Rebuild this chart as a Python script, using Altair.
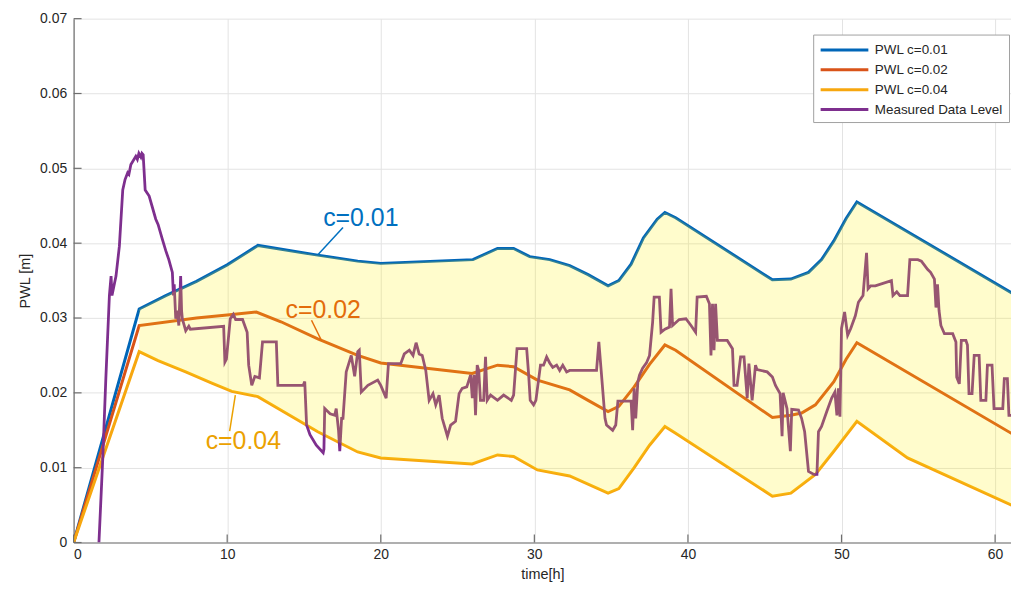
import altair as alt
import pandas as pd
import numpy as np

# ---------------- data ----------------
series_names = ["PWL c=0.01", "PWL c=0.02", "PWL c=0.04", "Measured Data Level"]
series_colors = ["#0066B8", "#D95319", "#F7A70F", "#7E2F8E"]

t_c01 = [0, 4.27, 6.0, 8.0, 10.0, 12.0, 15.9, 18.5, 20.0, 26.0, 27.6, 28.65, 29.7, 31.0, 32.3,
         33.5, 34.8, 35.5, 36.3, 37.1, 38.0, 38.5, 39.2, 45.5, 46.7, 47.85, 48.7, 49.5, 50.3,
         51.0, 61.3]
v_c01 = [0, 0.0312, 0.0330, 0.0349, 0.0371, 0.0397, 0.0384, 0.0376, 0.0373, 0.0378, 0.0393,
         0.0393, 0.0382, 0.0378, 0.0370, 0.0358, 0.0343, 0.0350, 0.0372, 0.0407, 0.0432, 0.0441,
         0.0434, 0.0351, 0.0352, 0.0361, 0.0378, 0.0403, 0.0433, 0.0455, 0.0331]

t_c02 = [0, 4.27, 8.0, 10.0, 11.9, 13.5, 15.9, 18.5, 20.0, 25.95, 27.6, 28.65, 30.2, 32.3,
         33.5, 34.8, 35.5, 36.5, 37.5, 38.5, 39.2, 45.5, 46.7, 47.4, 48.3, 49.5, 50.3, 51.0, 61.3]
v_c02 = [0, 0.0290, 0.0300, 0.0304, 0.0308, 0.0295, 0.0272, 0.0250, 0.0240, 0.0226, 0.0237,
         0.0235, 0.0217, 0.0204, 0.0190, 0.0175, 0.0182, 0.0208, 0.0238, 0.0264, 0.0257,
         0.0167, 0.0170, 0.0173, 0.0184, 0.0215, 0.0245, 0.0267, 0.0143]

t_c04 = [0, 4.27, 5.5, 7.3, 9.0, 10.3, 12.0, 15.9, 18.5, 20.0, 25.95, 27.6, 28.65, 30.2, 32.3,
         34.8, 35.5, 36.5, 37.5, 38.5, 39.2, 45.5, 46.7, 48.3, 49.5, 51.0, 54.3, 61.3]
v_c04 = [0, 0.0255, 0.0243, 0.0228, 0.0213, 0.0202, 0.0195, 0.0148, 0.0121, 0.0113, 0.0105,
         0.0117, 0.0115, 0.0097, 0.0089, 0.0066, 0.0072, 0.0100, 0.0130, 0.0155, 0.0146,
         0.0062, 0.0066, 0.0091, 0.0122, 0.0162, 0.0113, 0.0048]

t_meas = [1.65, 1.9, 2.1, 2.33, 2.44, 2.5, 2.6, 2.76, 2.98, 3.2, 3.35, 3.52, 3.6, 3.73, 4.05,
          4.15, 4.25, 4.38, 4.45, 4.53, 4.66, 4.92, 5.1, 5.35, 5.5, 5.78, 6.0, 6.2, 6.43, 6.5,
          6.55, 6.65, 6.75, 6.85, 6.97, 7.03, 7.08, 7.3, 7.5, 7.6, 9.77, 9.85, 9.95, 10.2, 10.4,
          10.55, 11.0, 11.3, 11.4, 11.6, 11.8, 12.1, 12.3, 13.2, 13.3, 14.95, 15.05, 15.17,
          15.39, 15.8, 16.25, 16.3, 16.35, 16.7, 17.0, 17.1, 17.25, 17.33, 17.45, 17.54, 17.75,
          18.08, 18.3, 18.5, 18.6, 18.73, 19.16, 19.8, 20.0, 20.35, 20.5, 21.3, 21.53, 21.86,
          22.1, 22.3, 22.5, 22.7, 22.93, 23.15, 23.4, 23.58, 23.8, 24.0, 24.34, 24.55, 24.87,
          25.1, 25.3, 25.6, 25.85, 25.96, 26.07, 26.17, 26.28, 26.38, 26.49, 26.7, 26.82, 26.93,
          27.15, 27.6, 28.0, 28.5, 28.65, 28.87, 29.5, 29.63, 29.73, 29.95, 30.1, 30.4, 30.6,
          30.8, 31.0, 31.2, 31.45, 31.65, 31.85, 32.1, 32.3, 34.05, 34.2, 34.35, 34.6, 34.7,
          35.1, 35.3, 35.44, 36.3, 36.4, 36.5, 36.6, 36.74, 36.85, 37.05, 37.3, 37.5, 37.7,
          37.8, 38.14, 38.25, 38.5, 38.8, 38.9, 39.0, 39.43, 39.87, 40.2, 40.5, 40.6, 41.2,
          41.4, 41.5, 41.6, 41.7, 41.8, 41.92, 42.56, 42.9, 43.0, 43.2, 43.43, 43.65, 43.86,
          43.97, 44.18, 44.4, 44.5, 45.16, 45.5, 45.7, 46.0, 46.13, 46.2, 46.45, 46.67, 46.76,
          47.2, 47.4, 47.6, 47.85, 48.2, 48.4, 48.5, 48.7, 49.04, 49.36, 49.57, 49.7, 49.8,
          49.9, 50.0, 50.2, 50.4, 50.6, 50.9, 51.1, 51.4, 51.63, 51.73, 51.9, 52.2, 53.25,
          53.35, 53.6, 53.8, 54.3, 54.45, 54.97, 55.2, 55.6, 55.8, 56.05, 56.15, 56.25, 56.35,
          56.47, 56.7, 57.24, 57.45, 57.5, 57.67, 57.8, 58.1, 58.2, 58.3, 58.5, 58.64, 58.96,
          59.07, 59.4, 59.5, 59.8, 59.93, 60.5, 60.6, 60.8, 60.9, 61.3]
v_meas = [0.0, 0.0113, 0.022, 0.033, 0.0356, 0.033, 0.034, 0.0356, 0.0396, 0.0471, 0.0485,
          0.0494, 0.0492, 0.0505, 0.0516, 0.0512, 0.052, 0.0515, 0.052, 0.0518, 0.0471, 0.0463,
          0.045, 0.0432, 0.0425, 0.0405, 0.039, 0.0378, 0.0361, 0.033, 0.0345, 0.0299, 0.031,
          0.029, 0.0356, 0.031, 0.0299, 0.0283, 0.0289, 0.0285, 0.0289, 0.0241, 0.0245, 0.0299,
          0.0305, 0.0298, 0.0298, 0.0281, 0.0237, 0.021, 0.0222, 0.022, 0.0268, 0.0268, 0.021,
          0.021, 0.0215, 0.0157, 0.0144, 0.013, 0.012, 0.0125, 0.0179, 0.0172, 0.017, 0.0179,
          0.015, 0.0122, 0.0166, 0.0166, 0.0228, 0.025, 0.0222, 0.0255, 0.0257, 0.0201, 0.021,
          0.0217, 0.021, 0.0193, 0.0239, 0.0239, 0.0252, 0.0257, 0.025, 0.0267, 0.0252, 0.025,
          0.023, 0.019, 0.0199, 0.0184, 0.0197, 0.0166, 0.0142, 0.0157, 0.0162, 0.0199, 0.0206,
          0.0208, 0.0224, 0.0193, 0.0224, 0.017, 0.0237, 0.023, 0.019, 0.019, 0.0248, 0.019,
          0.0197, 0.019, 0.0197, 0.019, 0.0197, 0.0259, 0.0259, 0.0224, 0.019, 0.0184, 0.019,
          0.0237, 0.0237, 0.0248, 0.024, 0.0234, 0.0237, 0.023, 0.0237, 0.0228, 0.023, 0.023,
          0.0268, 0.023, 0.0166, 0.0157, 0.015, 0.0157, 0.0189, 0.0189, 0.015, 0.0206, 0.0166,
          0.0215, 0.0224, 0.0233, 0.024, 0.025, 0.0294, 0.0328, 0.0328, 0.0281, 0.0285, 0.0288,
          0.0339, 0.029, 0.0298, 0.0299, 0.029, 0.0281, 0.0328, 0.0329, 0.0319, 0.025, 0.0319,
          0.0257, 0.0319, 0.027, 0.027, 0.0259, 0.021, 0.021, 0.0248, 0.0248, 0.0193, 0.0239,
          0.019, 0.0237, 0.0231, 0.0228, 0.0221, 0.021, 0.0199, 0.0142, 0.02, 0.0179, 0.0122,
          0.0178, 0.0177, 0.0166, 0.0148, 0.0095, 0.0091, 0.0091, 0.0148, 0.0155, 0.0175,
          0.0193, 0.0201, 0.017, 0.0206, 0.0168, 0.0286, 0.0308, 0.0277, 0.0286, 0.0303, 0.0321,
          0.033, 0.0387, 0.0339, 0.0343, 0.0343, 0.035, 0.033, 0.0335, 0.033, 0.033, 0.0378,
          0.0378, 0.0376, 0.0365, 0.0361, 0.0352, 0.0314, 0.0345, 0.031, 0.029, 0.0279, 0.0279,
          0.0268, 0.0221, 0.0212, 0.027, 0.027, 0.0264, 0.0199, 0.0199, 0.025, 0.025, 0.019,
          0.019, 0.0237, 0.0237, 0.0179, 0.0179, 0.0219, 0.0219, 0.017, 0.017]

x_ticks = [0, 10, 20, 30, 40, 50, 60]
y_ticks = [0, 0.01, 0.02, 0.03, 0.04, 0.05, 0.06, 0.07]

# annotations: label text, position, leader line ends
ann_text = ["c=0.01", "c=0.02", "c=0.04"]
ann_t = [16.25, 13.8, 8.6]
ann_v = [0.0433, 0.0310, 0.0135]
ann_color = ["#0070C0", "#E36C0A", "#EBA100"]
lead_t1 = [15.92, 15.49, 10.53]
lead_v1 = [0.0385, 0.0297, 0.0197]
lead_t2 = [17.54, 16.14, 10.16]
lead_v2 = [0.0421, 0.0270, 0.0149]

# ---------------- layout ----------------
W, H = 943, 527
X_MAX = W / 15.45
FONT = "Liberation Sans"

# ---------------- tables ----------------
pwl = pd.concat([
    pd.DataFrame({"t": t_c01, "v": v_c01, "series": series_names[0], "o": range(len(t_c01))}),
    pd.DataFrame({"t": t_c02, "v": v_c02, "series": series_names[1], "o": range(len(t_c02))}),
    pd.DataFrame({"t": t_c04, "v": v_c04, "series": series_names[2], "o": range(len(t_c04))}),
])
meas = pd.DataFrame({"t": t_meas, "v": v_meas, "series": series_names[3], "o": range(len(t_meas))})

# band between c=0.01 and c=0.04 curves (from the kink onwards)
band_t = sorted(set([t for t in t_c01 + t_c04 if t >= 4.27]))
band = pd.DataFrame({
    "t": band_t,
    "hi": np.interp(band_t, t_c01, v_c01),
    "lo": np.interp(band_t, t_c04, v_c04),
})

ann = pd.DataFrame({"label": ann_text, "t": ann_t, "v": ann_v, "c": ann_color})
leads = pd.DataFrame({"t": lead_t1, "v": lead_v1, "t2": lead_t2, "v2": lead_v2, "c": ann_color})
xt = pd.DataFrame({"t": x_ticks})
yt = pd.DataFrame({"v": y_ticks})

# ---------------- encodings ----------------
xscale = alt.Scale(domain=[0, X_MAX], nice=False, zero=False)
yscale = alt.Scale(domain=[0, 0.07], nice=False, zero=False)
xaxis = alt.Axis(values=x_ticks, title="time[h]", format="d", grid=True, ticks=False,
                 domain=True, domainColor="#6e6e6e", domainWidth=1.2,
                 gridColor="#e3e3e3", gridWidth=1,
                 labelFont=FONT, labelFontSize=14, labelColor="#262626", labelPadding=5,
                 titleFont=FONT, titleFontSize=14.5, titleFontWeight="normal",
                 titleColor="#262626", titlePadding=6)
yaxis = alt.Axis(values=y_ticks, title="PWL [m]", grid=True, ticks=False,
                 labelExpr="datum.value == 0 ? '0' : format(datum.value, '.2f')",
                 domain=True, domainColor="#6e6e6e", domainWidth=1.2,
                 gridColor="#e3e3e3", gridWidth=1,
                 labelFont=FONT, labelFontSize=14, labelColor="#262626", labelPadding=7,
                 titleFont=FONT, titleFontSize=14.5, titleFontWeight="normal",
                 titleColor="#262626", titlePadding=7)

X = alt.X("t:Q", scale=xscale, axis=xaxis)
Y = alt.Y("v:Q", scale=yscale, axis=yaxis)

# legend line symbol: 48 px long path drawn from a 16 px symbol slot
color = alt.Color(
    "series:N",
    scale=alt.Scale(domain=series_names, range=series_colors),
    legend=alt.Legend(
        title=None, orient="none", legendX=744, legendY=16,
        symbolType="M-1,0H5", symbolSize=256, symbolStrokeWidth=3,
        labelFont=FONT, labelFontSize=13.5, labelColor="#262626", labelOffset=37,
        fillColor="white", strokeColor="#a0a0a0", padding=6, rowPadding=4,
    ),
)

lines = alt.Chart(pwl).mark_line(strokeWidth=3, clip=True).encode(
    x=X, y=Y, color=color, order="o:Q", detail="series:N")

meas_line = alt.Chart(meas).mark_line(strokeWidth=2.8, clip=True).encode(
    x=X, y=Y, color=color, order="o:Q")

area = alt.Chart(band).mark_area(color="#FFF000", opacity=0.2, clip=True).encode(
    x=X, y=alt.Y("hi:Q", scale=yscale, axis=yaxis), y2="lo:Q")

lead_rules = alt.Chart(leads).mark_rule(strokeWidth=1.5).encode(
    x=X, y=Y, x2="t2:Q", y2="v2:Q", color=alt.Color("c:N", scale=None, legend=None))

labels = alt.Chart(ann).mark_text(font=FONT, fontSize=25, align="left", baseline="middle").encode(
    x=X, y=Y, text="label:N", color=alt.Color("c:N", scale=None, legend=None))

xtick_marks = alt.Chart(xt).mark_rule(color="#6e6e6e", strokeWidth=1.2).encode(
    x=X, y=alt.value(H), y2=alt.value(H - 8))
ytick_marks = alt.Chart(yt).mark_rule(color="#6e6e6e", strokeWidth=1.2).encode(
    y=Y, x=alt.value(0), x2=alt.value(8))

chart = alt.layer(
    lines, meas_line, area, lead_rules, labels, xtick_marks, ytick_marks
).properties(
    width=W, height=H,
    autosize=alt.AutoSizeParams(type="none"),
    padding={"left": 66, "top": 9, "right": 0, "bottom": 40},
    background="white",
).configure_view(stroke=None)

chart.save("out.html", embed_options={"renderer": "svg", "actions": False})
